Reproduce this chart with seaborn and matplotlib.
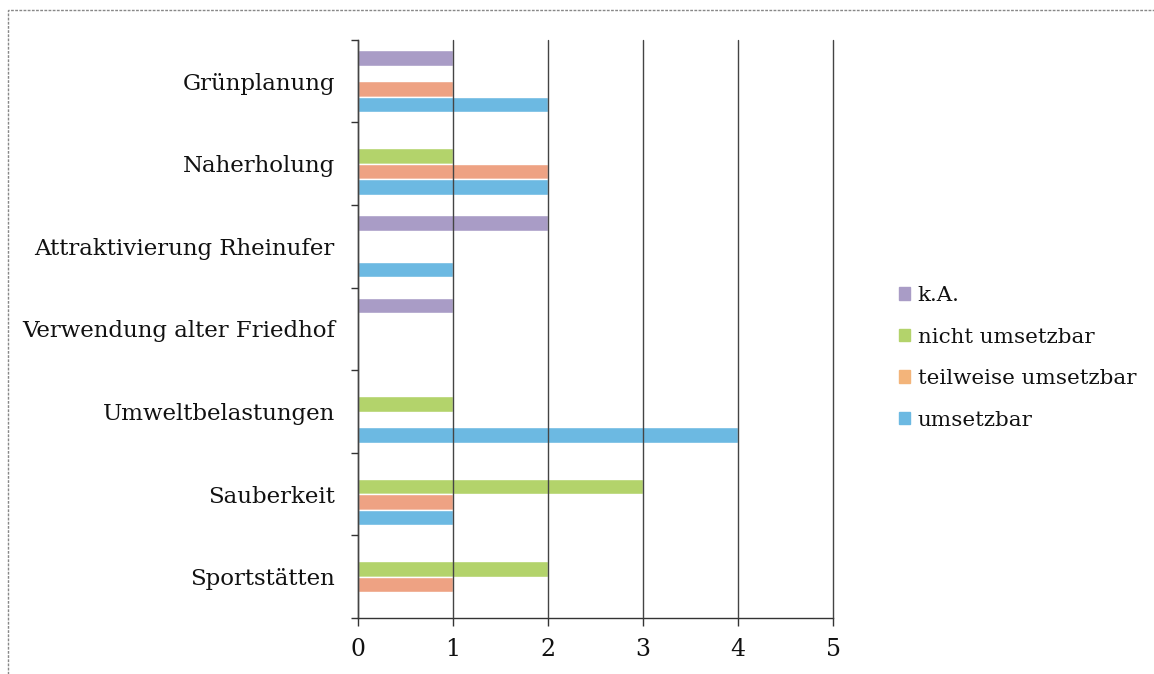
import matplotlib
matplotlib.use("Agg")
import matplotlib.pyplot as plt
import matplotlib.patches as mpatches
from matplotlib.ticker import FixedLocator
import seaborn as sns
import pandas as pd

categories = ["Grünplanung", "Naherholung", "Attraktivierung Rheinufer",
              "Verwendung alter Friedhof", "Umweltbelastungen", "Sauberkeit",
              "Sportstätten"]
series = ["k.A.", "nicht umsetzbar", "teilweise umsetzbar", "umsetzbar"]
ka = [1, 0, 2, 1, 0, 0, 0]
nicht = [0, 1, 0, 0, 1, 3, 2]
teilweise = [1, 2, 0, 0, 0, 1, 1]
umsetzbar = [2, 2, 1, 0, 4, 1, 0]
colors = ["#a99cc6", "#b3d36b", "#eea283", "#6cb9e2"]
legend_colors = ["#a99cc6", "#b3d36b", "#f3b47a", "#6cb9e2"]

rows = []
for name, vals in zip(series, [ka, nicht, teilweise, umsetzbar]):
    for cat, v in zip(categories, vals):
        rows.append({"Kategorie": cat, "Serie": name, "Wert": v})
df = pd.DataFrame(rows)

sns.set_style("white")
plt.rcParams["font.family"] = ["DejaVu Serif"]
plt.rcParams["text.color"] = "#111111"
plt.rcParams["xtick.color"] = "#111111"
plt.rcParams["ytick.color"] = "#111111"

fig = plt.figure(figsize=(11.54, 6.74), dpi=100)
ax = fig.add_axes([0.310, 0.083, 0.412, 0.858])

sns.barplot(data=df, y="Kategorie", x="Wert", hue="Serie", order=categories,
            hue_order=series, palette=colors, orient="h", width=0.75,
            gap=0.0, ax=ax, legend=False, saturation=1)

ax.set_xlim(0, 5)
ax.set_ylim(len(categories) - 0.5, -0.5)
ax.set_xticks(range(6))
ax.xaxis.grid(True, color="#444444", linewidth=1.0)
for gl in ax.get_xgridlines():
    gl.set_clip_on(False)
ax.set_axisbelow(False)
for bar in ax.patches:
    bar.set_zorder(1)
ax.set_xlabel("")
ax.set_ylabel("")

ax.yaxis.set_minor_locator(FixedLocator([i - 0.5 for i in range(len(categories) + 1)]))
ax.tick_params(axis="y", which="major", length=0, pad=16.5, labelsize=16.5)
ax.tick_params(axis="y", which="minor", length=5, width=1, left=True, color="#333333")
ax.tick_params(axis="x", which="major", length=6, width=1, bottom=True, labelsize=17,
               pad=8, color="#333333")

for side in ["top", "right"]:
    ax.spines[side].set_visible(False)
for side in ["left", "bottom"]:
    ax.spines[side].set_color("#333333")
    ax.spines[side].set_linewidth(1.0)

handles = [mpatches.Patch(color=c, label=s) for c, s in zip(legend_colors, series)]
fig.legend(handles=handles, loc="upper left", bbox_to_anchor=(0.762, 0.604),
           frameon=False, fontsize=15.4, handlelength=0.55, handleheight=0.55,
           handletextpad=0.35, labelspacing=1.05)

frame = mpatches.Rectangle((0.007, -0.02), 1.2, 1.005, transform=fig.transFigure,
                           fill=False, edgecolor="#888888", linewidth=1.0,
                           linestyle=(0, (2, 1)))
fig.add_artist(frame)

fig.savefig("out.png", dpi=100)
plt.close(fig)
